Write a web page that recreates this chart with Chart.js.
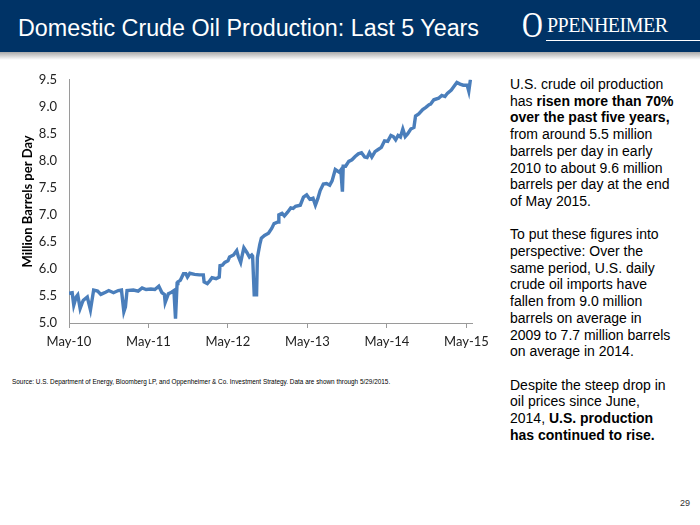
<!DOCTYPE html>
<html>
<head>
<meta charset="utf-8">
<script src="https://cdn.jsdelivr.net/npm/chart.js@4/dist/chart.umd.min.js"></script>
<style>
  body { margin: 0; width: 700px; height: 525px; background: #fff; position: relative; overflow: hidden; font-family: "Liberation Sans", Arial, sans-serif; }
  .header { position: absolute; left: 0; top: 0; width: 700px; height: 52px; background: #003366; }
  .strip { position: absolute; left: 0; top: 52px; width: 700px; height: 8px; background: linear-gradient(#a9a9a9, #e6e6e6 70%, #fff); }
  .title { position: absolute; left: 18px; top: 15px; color: #fff; font-size: 23.3px; white-space: nowrap; }
  .logo { position: absolute; left: 522px; top: 8px; width: 170px; height: 40px; color: #fff; font-family: "Liberation Serif", "DejaVu Serif", serif; white-space: nowrap; }
  .logo .big { position: absolute; left: 0; top: -4px; font-size: 36px; transform: scaleX(0.8); transform-origin: left; }
  .logo .rest { position: absolute; left: 25px; top: 6px; font-size: 20px; letter-spacing: -0.5px; }
  .logo .rule { position: absolute; left: 24px; top: 32px; width: 156px; height: 1px; background: #fff; }
  #wrap { position: absolute; left: 0; top: 60px; width: 495px; height: 300px; }
  .side { position: absolute; left: 510px; top: 76px; width: 166px; font-size: 14px; line-height: 16.7px; color: #000; }
  .side p { margin: 0 0 16.7px 0; }
  .source { position: absolute; left: 12px; top: 377px; font-size: 8px; color: #000; white-space: nowrap; transform: scaleX(0.8); transform-origin: left; }
  .page { position: absolute; left: 680px; top: 498px; font-size: 9px; color: #333; }
</style>
</head>
<body>
<div class="header"></div>
<div class="strip"></div>
<div class="title">Domestic Crude Oil Production: Last 5 Years</div>
<div class="logo"><span class="big">O</span><span class="rest">PPENHEIMER</span><div class="rule"></div></div>
<div id="wrap"><canvas id="oilChart" width="495" height="300"></canvas></div>
<div class="side">
  <p>U.S. crude oil production has <b>risen more than 70% over the past five years,</b> from around 5.5 million barrels per day in early 2010 to about 9.6 million barrels per day at the end of May 2015.</p>
  <p>To put these figures into perspective: Over the same period, U.S. daily crude oil imports have fallen from 9.0 million barrels on average in 2009 to 7.7 million barrels on average in 2014.</p>
  <p>Despite the steep drop in oil prices since June, 2014, <b>U.S. production has continued to rise.</b></p>
</div>
<div class="source">Source: U.S. Department of Energy, Bloomberg LP, and Oppenheimer &amp; Co. Investment Strategy. Data are shown through 5/29/2015.</div>
<div class="page">29</div>

<script>
// years since May 2010
const yearOffset = [
  0.00, 0.04, 0.06, 0.09, 0.11, 0.14, 0.17, 0.18, 0.23, 0.27,
  0.31, 0.36, 0.40, 0.46, 0.50, 0.56, 0.62, 0.66, 0.69, 0.71,
  0.73, 0.81, 0.87, 0.92, 0.97, 1.03, 1.08, 1.13, 1.17, 1.20,
  1.21, 1.25, 1.29, 1.32, 1.34, 1.36, 1.37, 1.40, 1.41, 1.44,
  1.47, 1.49, 1.52, 1.58, 1.64, 1.69, 1.70, 1.74, 1.77, 1.80,
  1.85, 1.89, 1.90, 1.93, 1.96, 2.00, 2.02, 2.07, 2.11, 2.13,
  2.16, 2.18, 2.20, 2.24, 2.27, 2.30, 2.31, 2.33, 2.36, 2.37,
  2.40, 2.42, 2.46, 2.51, 2.55, 2.58, 2.63, 2.64, 2.68, 2.71,
  2.75, 2.79, 2.82, 2.85, 2.91, 2.95, 2.99, 3.03, 3.07, 3.10,
  3.13, 3.16, 3.20, 3.24, 3.28, 3.31, 3.35, 3.40, 3.42, 3.44,
  3.45, 3.48, 3.52, 3.56, 3.60, 3.64, 3.68, 3.72, 3.75, 3.78,
  3.81, 3.85, 3.89, 3.93, 3.97, 4.01, 4.05, 4.08, 4.11, 4.14,
  4.17, 4.20, 4.23, 4.26, 4.30, 4.34, 4.36, 4.40, 4.45, 4.49,
  4.53, 4.55, 4.59, 4.65, 4.69, 4.73, 4.76, 4.81, 4.84, 4.88,
  4.92, 4.96, 5.01, 5.03, 5.05, 5.06
];

// million barrels per day
const production = [
  5.55, 5.56, 5.33, 5.48, 5.52, 5.27, 5.39, 5.42, 5.48, 5.24,
  5.61, 5.59, 5.53, 5.57, 5.60, 5.56, 5.60, 5.61, 5.21, 5.30,
  5.60, 5.61, 5.59, 5.65, 5.62, 5.63, 5.62, 5.68, 5.56, 5.53,
  5.38, 5.54, 5.57, 5.60, 5.08, 5.73, 5.76, 5.79, 5.82, 5.91,
  5.91, 5.85, 5.92, 5.90, 5.89, 5.89, 5.76, 5.73, 5.78, 5.84,
  5.82, 5.85, 6.06, 6.07, 6.12, 6.15, 6.22, 6.26, 6.34, 6.23,
  6.12, 6.26, 6.39, 6.30, 6.22, 6.26, 6.24, 5.52, 5.52, 6.21,
  6.45, 6.57, 6.62, 6.66, 6.75, 6.84, 6.87, 7.00, 7.03, 6.98,
  7.05, 7.13, 7.12, 7.16, 7.18, 7.33, 7.37, 7.29, 7.31, 7.18,
  7.30, 7.45, 7.57, 7.58, 7.55, 7.63, 7.84, 7.79, 7.83, 7.43,
  7.90, 7.90, 7.99, 8.02, 8.08, 8.13, 8.15, 8.07, 8.06, 8.15,
  8.07, 8.17, 8.21, 8.25, 8.37, 8.36, 8.47, 8.45, 8.39, 8.47,
  8.44, 8.59, 8.45, 8.50, 8.59, 8.62, 8.83, 8.87, 8.95, 8.99,
  9.04, 9.05, 9.13, 9.16, 9.21, 9.19, 9.25, 9.31, 9.37, 9.45,
  9.42, 9.40, 9.40, 9.29, 9.50, 9.51
];

const tickYears = [0, 1, 2, 3, 4, 5];
const tickLabels = ['May-10', 'May-11', 'May-12', 'May-13', 'May-14', 'May-15'];

const axisFont = { family: 'Lato, "Open Sans", sans-serif', size: 13 };

function buildChart() {
  const points = yearOffset.map((t, i) => ({ x: t, y: production[i] }));
  new Chart(document.getElementById('oilChart'), {
    type: 'line',
    data: {
      datasets: [{
        data: points,
        borderColor: '#4a7ebb',
        borderWidth: 3.4,
        pointRadius: 0,
        tension: 0,
        fill: false
      }]
    },
    options: {
      responsive: false,
      animation: false,
      layout: { padding: { left: 0, top: 15, right: 12, bottom: 0 } },
      plugins: { legend: { display: false }, tooltip: { enabled: false } },
      scales: {
        x: {
          type: 'linear',
          min: 0,
          max: 5.08,
          afterBuildTicks: s => { s.ticks = tickYears.map(v => ({ value: v })); },
          afterFit: s => { s.height = 37; },
          ticks: {
            autoSkip: false,
            maxRotation: 0,
            padding: 6,
            color: '#222',
            font: axisFont,
            callback: (v) => tickLabels[tickYears.indexOf(v)]
          },
          grid: { drawOnChartArea: false, drawTicks: true, tickLength: 5, color: '#9a9a9a' },
          border: { color: '#9a9a9a', width: 1 }
        },
        y: {
          min: 5,
          max: 9.5,
          afterFit: s => { s.width = 69; },
          ticks: {
            stepSize: 0.5,
            padding: 12,
            color: '#222',
            font: axisFont,
            callback: v => v.toFixed(1)
          },
          grid: { drawOnChartArea: false, drawTicks: false },
          border: { color: '#9a9a9a', width: 1 },
          title: {
            display: true,
            text: 'Million Barrels per Day',
            color: '#000',
            font: { family: 'Lato, "Open Sans", sans-serif', size: 13, weight: 'bold' },
            padding: { top: 20, bottom: 0 }
          }
        }
      }
    }
  });
}

document.addEventListener('DOMContentLoaded', buildChart);
</script>
</body>
</html>
